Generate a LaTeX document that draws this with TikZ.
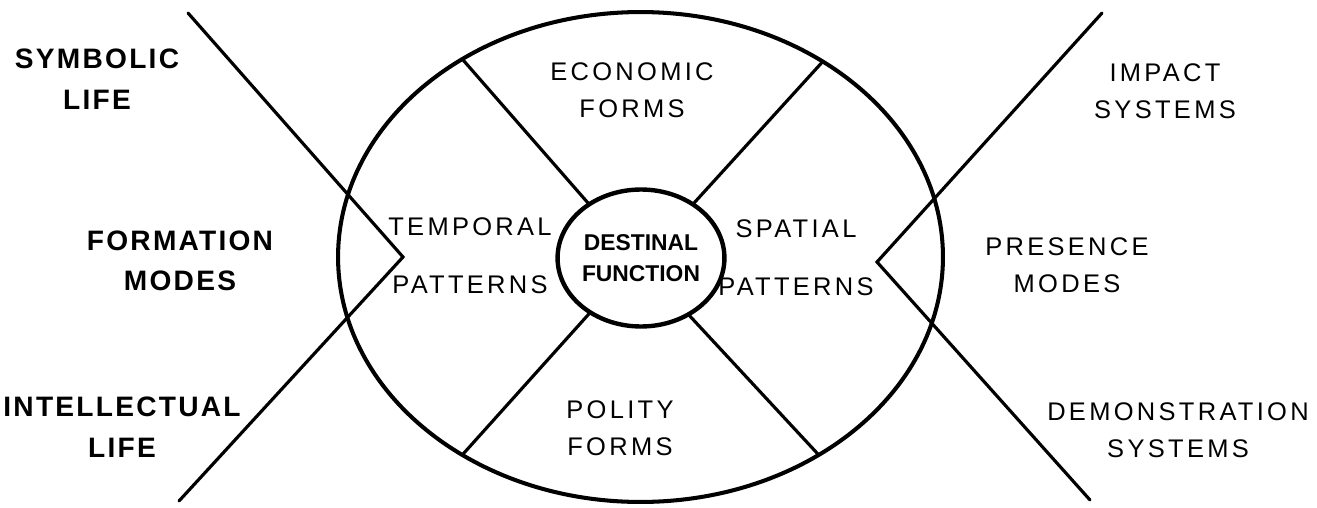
\documentclass[tikz,border=0pt]{standalone}
\usepackage{fontspec}
\setmainfont{Liberation Sans}
\newfontfamily\markerfont[LetterSpace=8]{Liberation Sans}
\newfontfamily\penfont[LetterSpace=13]{Liberation Sans}
\usetikzlibrary{shapes.geometric}
\begin{document}
\begin{tikzpicture}[
    x=0.02cm, y=-0.02cm,
    every node/.style={align=center},
    rim/.style={draw, ellipse, line width=2.3pt, minimum width=12.1cm, minimum height=9.8cm, inner sep=0pt, outer sep=0pt},
    hub/.style={draw, ellipse, line width=2.5pt, minimum width=2.92cm, minimum height=2.74cm, inner sep=0pt, outer sep=0pt, font=\bfseries\fontsize{13}{17.6}\selectfont},
    spoke/.style={draw, line width=1.8pt, line cap=round},
    cross line/.style={draw, line width=1.8pt, line cap=round, line join=miter},
    marker label/.style={font=\markerfont\bfseries\fontsize{16}{23}\selectfont},
    pen label/.style={font=\penfont\fontsize{14.5}{21}\selectfont},
    ]
\useasboundingbox (0,0) rectangle (1317,507);
\node[rim] (rim) at (640.5,257) {};
\node[hub] (hub) at (641,258) {DESTINAL\\FUNCTION};
\draw[spoke] (hub.134) -- (rim.132);
\draw[spoke] (hub.46) -- (rim.47);
\draw[spoke] (hub.227) -- (rim.228);
\draw[spoke] (hub.310) -- (rim.312);
\coordinate (symTip) at (188,13);
\coordinate (formTip) at (403,257);
\coordinate (intelTip) at (179,501);
\draw[cross line] (symTip) -- (formTip) -- (intelTip);
\coordinate (impTip) at (1102,13);
\coordinate (presTip) at (877,262);
\coordinate (demoTip) at (1090,500);
\draw[cross line] (impTip) -- (presTip) -- (demoTip);
\node[marker label] (symbolic) at (97,79) {SYMBOLIC\\LIFE};
\node[marker label] (formation) at (180,261) {FORMATION\\MODES};
\node[marker label] (intellectual) at (122,427) {INTELLECTUAL\\LIFE};
\node[pen label] (impact) at (1165,91) {IMPACT\\SYSTEMS};
\node[pen label] (presence) at (1067,265) {PRESENCE\\MODES};
\node[pen label] (demonstration) at (1178,430) {DEMONSTRATION\\SYSTEMS};
\node[pen label] (economic) at (632,90) {ECONOMIC\\FORMS};
\node[pen label] (polity) at (620,428) {POLITY\\FORMS};
\node[pen label] (temporal) at (470,256) {TEMPORAL\\[12pt]PATTERNS};
\node[pen label] (spatial) at (796,258) {SPATIAL\\[12pt]PATTERNS};
\end{tikzpicture}
\end{document}
